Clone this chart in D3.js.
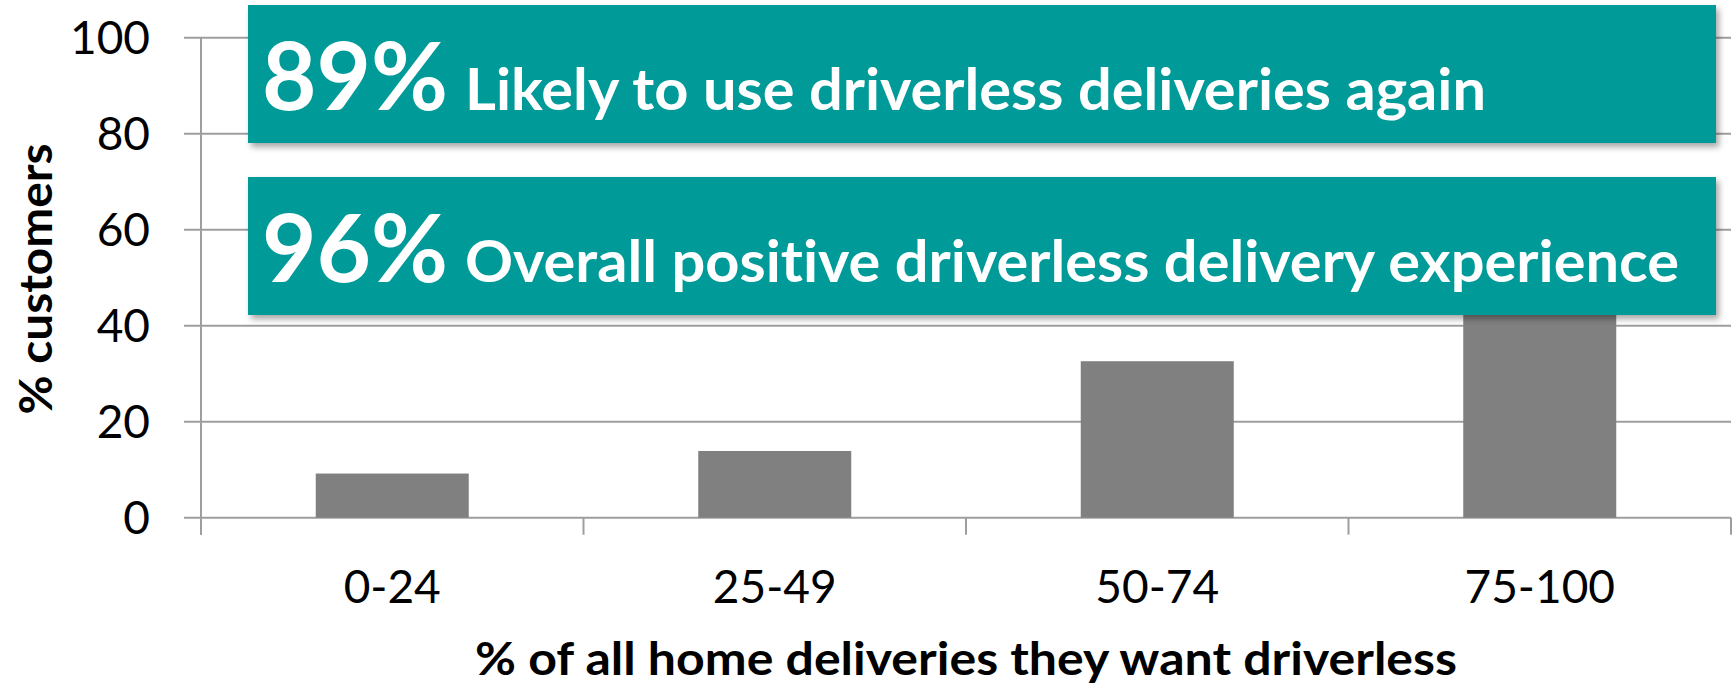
<!DOCTYPE html>
<html>
<head>
<meta charset="utf-8">
<script src="https://cdn.jsdelivr.net/npm/d3@7"></script>
<style>
  html, body { margin: 0; padding: 0; background: #fff; }
  svg { display: block; }
  text { font-variant-ligatures: none; }
</style>
</head>
<body>
<div id="chart"></div>
<script>
// chart data
const categories = ["0-24", "25-49", "50-74", "75-100"];
const customerPct = [9.2, 13.9, 32.6, 44.3];
const yTicks = [0, 20, 40, 60, 80, 100];
const calloutPct = ["89%", "96%"];
const calloutText = ["Likely to use driverless deliveries again", "Overall positive driverless delivery experience"];
const xTitle = "% of all home deliveries they want driverless";
const yTitle = "% customers";

const width = 1735, height = 685;
const plotLeft = 201, plotRight = 1731, plotTop = 37.7, plotBottom = 517.7;
const font = "Lato, 'Open Sans', sans-serif";
const gridColor = "#9e9e9e";

const svg = d3.select("#chart").append("svg")
    .attr("width", width)
    .attr("height", height);

// soft shadow under the callout boxes
const filter = svg.append("defs").append("filter")
    .attr("id", "shadow")
    .attr("x", "-5%").attr("y", "-10%")
    .attr("width", "110%").attr("height", "130%");
filter.append("feDropShadow")
    .attr("dx", 3).attr("dy", 4)
    .attr("stdDeviation", 3)
    .attr("flood-color", "#000")
    .attr("flood-opacity", 0.35);

const x = d3.scaleBand()
    .domain(categories)
    .range([plotLeft, plotRight])
    .paddingInner(0.6)
    .paddingOuter(0.3);

const y = d3.scaleLinear()
    .domain([0, 100])
    .range([plotBottom, plotTop]);

// horizontal gridlines (with the little tick stubs left of the axis)
svg.append("g").selectAll("line")
    .data(yTicks)
    .join("line")
    .attr("x1", plotLeft - 17)
    .attr("x2", plotRight)
    .attr("y1", d => y(d))
    .attr("y2", d => y(d))
    .attr("stroke", gridColor)
    .attr("stroke-width", 2);

// vertical axis line
svg.append("line")
    .attr("x1", plotLeft).attr("x2", plotLeft)
    .attr("y1", plotTop).attr("y2", plotBottom + 17)
    .attr("stroke", gridColor)
    .attr("stroke-width", 2);

// category separators on the x axis
const step = x.step();
const seps = categories.map(c => x(c) - step * 0.3).concat([plotRight]);
svg.append("g").selectAll("line")
    .data(seps)
    .join("line")
    .attr("x1", d => d).attr("x2", d => d)
    .attr("y1", plotBottom).attr("y2", plotBottom + 17)
    .attr("stroke", gridColor)
    .attr("stroke-width", 2);

// y tick labels
const yAxis = svg.append("g")
    .attr("transform", `translate(${plotLeft},0)`)
    .call(d3.axisLeft(y).tickValues(yTicks).tickSize(0).tickPadding(51));
yAxis.select(".domain").remove();
yAxis.selectAll("text")
    .style("font-family", font)
    .style("font-size", "46px")
    .attr("fill", "#000")
    .attr("dy", "0.34em");

// bars
svg.append("g").selectAll("rect")
    .data(customerPct)
    .join("rect")
    .attr("x", (d, i) => x(categories[i]))
    .attr("y", d => y(d))
    .attr("width", x.bandwidth())
    .attr("height", d => y(0) - y(d))
    .attr("fill", "#808080");

// category labels
svg.append("g").selectAll("text")
    .data(categories)
    .join("text")
    .attr("x", d => x(d) + x.bandwidth() / 2)
    .attr("y", 603)
    .attr("text-anchor", "middle")
    .style("font-family", font)
    .style("font-size", "46px")
    .attr("fill", "#000")
    .text(d => d);

// axis titles
svg.append("text")
    .attr("x", (plotLeft + plotRight) / 2)
    .attr("y", 675)
    .attr("text-anchor", "middle")
    .attr("textLength", 982)
    .attr("lengthAdjust", "spacingAndGlyphs")
    .style("font-family", font)
    .style("font-size", "46px")
    .style("font-weight", "bold")
    .attr("fill", "#000")
    .text(xTitle);

svg.append("text")
    .attr("transform", "translate(52,279) rotate(-90)")
    .attr("text-anchor", "middle")
    .attr("textLength", 271)
    .attr("lengthAdjust", "spacingAndGlyphs")
    .style("font-family", font)
    .style("font-size", "46px")
    .style("font-weight", "bold")
    .attr("fill", "#000")
    .text(yTitle);

// callout boxes
const boxTops = [5, 177];
const descWidths = [1021, 1214];
calloutPct.forEach((p, i) => {
    const g = svg.append("g").attr("transform", `translate(248,${boxTops[i]})`);
    g.append("rect")
        .attr("width", 1716 - 248)
        .attr("height", 138)
        .attr("fill", "#029a98")
        .attr("filter", "url(#shadow)");
    g.append("text")
        .attr("x", 14)
        .attr("y", 105)
        .attr("textLength", 186)
        .attr("lengthAdjust", "spacingAndGlyphs")
        .style("font-family", font)
        .style("font-size", "93px")
        .style("font-weight", "bold")
        .attr("fill", "#fff")
        .text(p);
    g.append("text")
        .attr("x", 217)
        .attr("y", 105)
        .attr("textLength", descWidths[i])
        .attr("lengthAdjust", "spacingAndGlyphs")
        .style("font-family", font)
        .style("font-size", "57px")
        .style("font-weight", "bold")
        .attr("fill", "#fff")
        .text(calloutText[i]);
});
</script>
</body>
</html>
